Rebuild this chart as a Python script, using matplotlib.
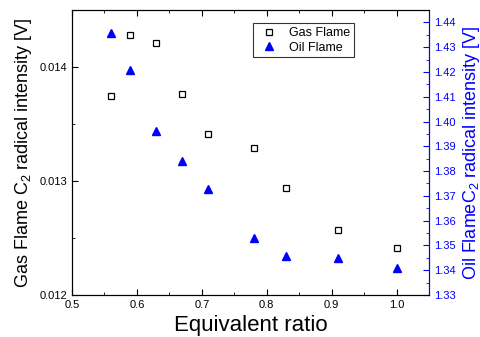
import matplotlib.pyplot as plt
from matplotlib.ticker import MultipleLocator

plt.rcParams['font.family'] = ['Liberation Sans', 'DejaVu Sans']
plt.rcParams['mathtext.fontset'] = 'custom'
plt.rcParams['mathtext.rm'] = 'Liberation Sans'
plt.rcParams['mathtext.it'] = 'Liberation Sans'

# data
ratio = [0.56, 0.59, 0.63, 0.67, 0.71, 0.78, 0.83, 0.91, 1.0]
gas = [0.013749, 0.014278, 0.014208, 0.013767, 0.013408, 0.013287, 0.012943, 0.012571, 0.01241]
oil = [1.4357, 1.4207, 1.3963, 1.3842, 1.3727, 1.3531, 1.3458, 1.3449, 1.3411]

fig = plt.figure(figsize=(4.81, 3.37), dpi=100)
ax = fig.add_axes([0.1497, 0.1246, 0.7423, 0.8457])
ax2 = ax.twinx()

l1, = ax.plot(ratio, gas, 's', mfc='none', mec='black', ms=4, mew=0.9, label='Gas Flame')
l2, = ax2.plot(ratio, oil, '^', color='blue', ms=6, label='Oil Flame')

ax.set_xlim(0.5, 1.05)
ax.set_ylim(0.012, 0.0145)
ax2.set_ylim(1.33, 1.445)

ax.xaxis.set_major_locator(MultipleLocator(0.1))
ax.xaxis.set_minor_locator(MultipleLocator(0.05))
ax.yaxis.set_major_locator(MultipleLocator(0.001))
ax.yaxis.set_minor_locator(MultipleLocator(0.0005))
ax2.yaxis.set_major_locator(MultipleLocator(0.01))
ax2.yaxis.set_minor_locator(MultipleLocator(0.005))

ax.tick_params(which='both', direction='in', top=True, labelsize=8)
ax.tick_params(which='major', length=4)
ax.tick_params(which='minor', length=2)
ax2.tick_params(which='both', direction='in', colors='blue', labelsize=8)
ax2.tick_params(which='major', length=4)
ax2.tick_params(which='minor', length=2)
ax2.spines['right'].set_color('blue')

ax.set_xlabel('Equivalent ratio', fontsize=16)
ax.set_ylabel(r'Gas Flame C$_\mathregular{2}$ radical intensity [V]', fontsize=13)
ax2.set_ylabel(r'Oil FlameC$_\mathregular{2}$ radical intensity [V]', fontsize=13, color='blue')

leg = ax.legend([l1, l2], ['Gas Flame', 'Oil Flame'], loc='upper left',
                bbox_to_anchor=(0.49, 0.975), fontsize=9, frameon=True, fancybox=False,
                edgecolor='black', handletextpad=0.6, borderpad=0.3, labelspacing=0.2)
leg.get_frame().set_linewidth(0.8)

fig.savefig('out.png', dpi=100)
